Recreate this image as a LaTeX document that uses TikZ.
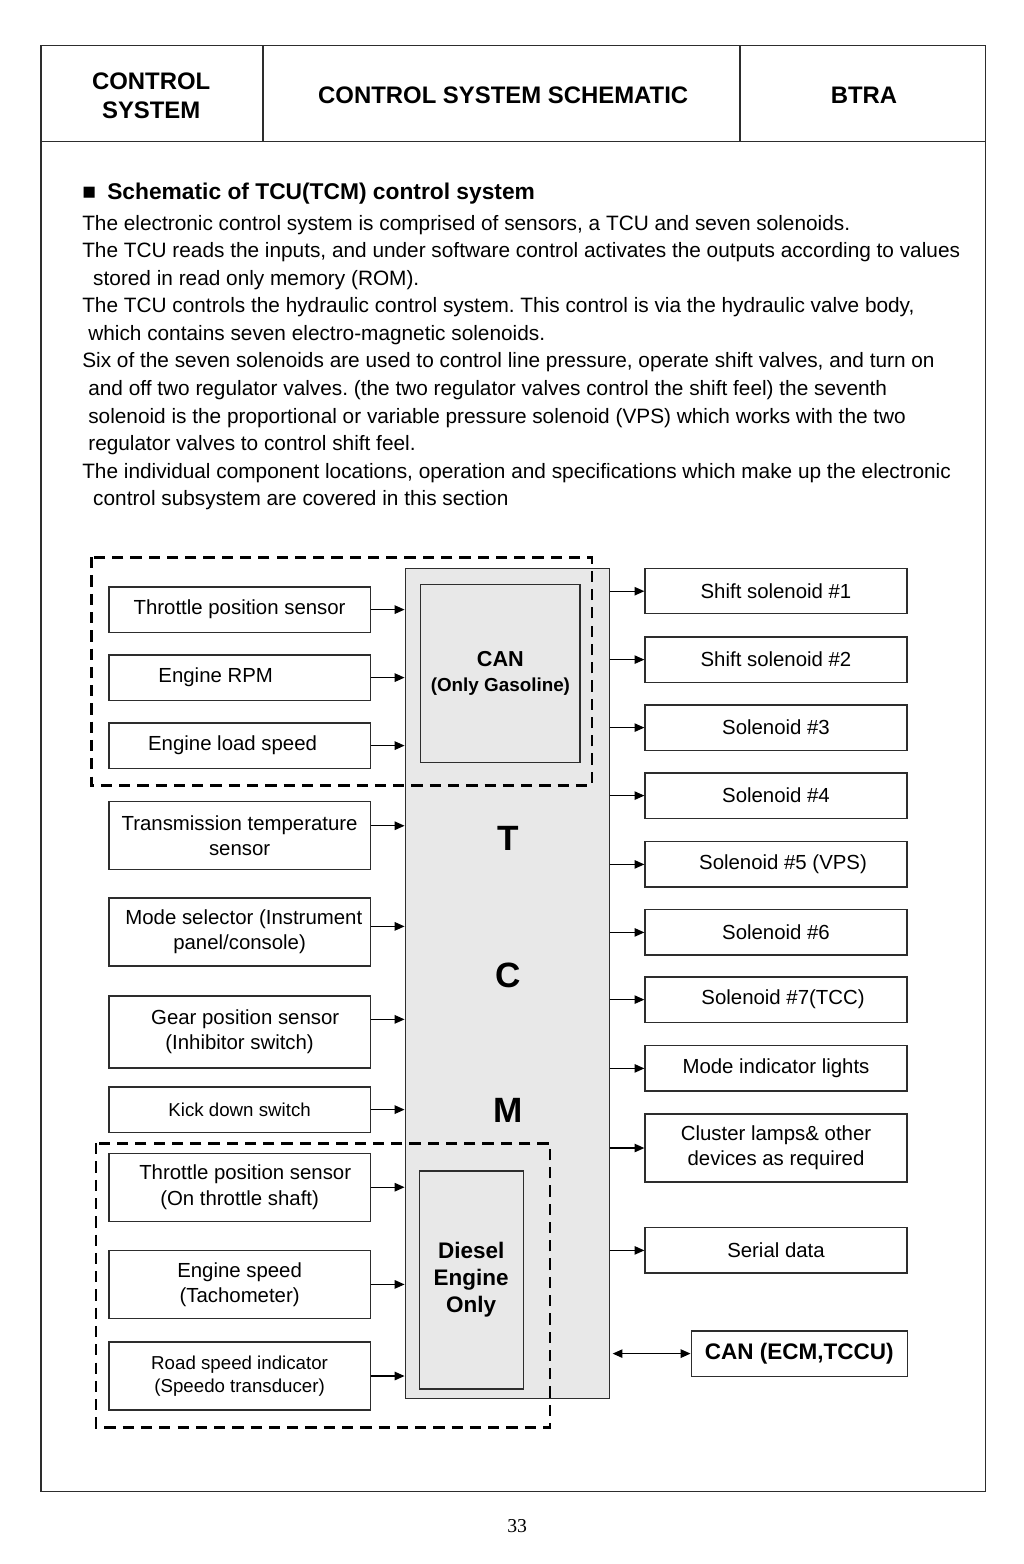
\documentclass[tikz,border=0pt]{standalone}
\usepackage{fontspec}
\setmainfont{Liberation Sans}
\newfontfamily\numfont{Liberation Serif}
\usetikzlibrary{arrows.meta}
\frenchspacing

\definecolor{tcmgray}{RGB}{232,232,232}
\definecolor{boxline}{RGB}{45,45,45}

\tikzset{
  sensor/.style={draw=boxline, line width=0.9pt, minimum width=6.53cm, minimum height=1.13cm,
    inner sep=0pt, align=center, font=\fontsize{14.5}{17.8}\selectfont},
  output/.style={sensor, minimum width=6.55cm},
  tallbox/.style={minimum height=1.70cm},
  smalltext/.style={font=\fontsize{13.3}{16.4}\selectfont},
  groupline/.style={line width=2pt, dash pattern=on 8pt off 5pt},
  sig/.style={line width=0.9pt, -{Triangle[length=7pt,width=6pt]}},
  bisig/.style={line width=0.9pt, {Triangle[length=7pt,width=6pt]}-{Triangle[length=7pt,width=6pt]}},
  hdr/.style={font=\bfseries\fontsize{17}{20.6}\selectfont, align=center},
}

\begin{document}
\begin{tikzpicture}
\useasboundingbox (0.00,0.00) rectangle (25.60,-39.10);
% page frame and header
\draw[line width=1pt, draw=boxline] (1.03,-1.13) rectangle (24.63,-37.28);
\draw[line width=1pt, draw=boxline] (1.03,-3.53) -- (24.63,-3.53);
\draw[line width=1pt, draw=boxline] (6.58,-1.13) -- (6.58,-3.53);
\draw[line width=1pt, draw=boxline] (18.50,-1.13) -- (18.50,-3.53);
\node[hdr] (hdrleft) at (3.78,-2.40) {CONTROL\\SYSTEM};
\node[hdr] (hdrmid) at (12.58,-2.38) {CONTROL SYSTEM SCHEMATIC};
\node[hdr] (hdrright) at (21.60,-2.38) {BTRA};

% text
\node[anchor=base west, inner sep=0pt, font=\bfseries\fontsize{16.2}{19}\selectfont] (heading) at (2.05,-4.99)
  {■\hspace{8pt}Schematic of TCU(TCM) control system};
\node[anchor=north west, inner sep=0pt, align=left, font=\fontsize{14.8}{19.6}\selectfont] (intro) at (2.05,-5.37) {%
The electronic control system is comprised of sensors, a TCU and seven solenoids.\\
The TCU reads the inputs, and under software control activates the outputs according to values\\
\hspace*{7.8pt}stored in read only memory (ROM).\\
The TCU controls the hydraulic control system. This control is via the hydraulic valve body,\\
\hspace*{4.3pt}which contains seven electro-magnetic solenoids.\\
Six of the seven solenoids are used to control line pressure, operate shift valves, and turn on\\
\hspace*{4.3pt}and off two regulator valves. (the two regulator valves control the shift feel) the seventh\\
\hspace*{4.3pt}solenoid is the proportional or variable pressure solenoid (VPS) which works with the two\\
\hspace*{4.3pt}regulator valves to control shift feel.\\
The individual component locations, operation and specifications which make up the electronic\\
\hspace*{7.8pt}control subsystem are covered in this section};

% TCM block
\node[draw=boxline, fill=tcmgray, line width=0.9pt, minimum width=5.10cm, minimum height=20.75cm, inner sep=0pt] (tcm) at (12.68,-24.58) {};
\node[draw=boxline, line width=0.9pt, minimum width=3.98cm, minimum height=4.45cm, inner sep=0pt, align=center, font=\bfseries] (canbox) at (12.51,-16.83)
  {\fontsize{15.4}{18.5}\selectfont CAN\\[6pt]\fontsize{13.4}{18.5}\selectfont(Only Gasoline)};
\node[draw=boxline, line width=0.9pt, minimum width=2.60cm, minimum height=5.45cm, inner sep=0pt, align=center, font=\bfseries\fontsize{16}{19.2}\selectfont] (dieselbox) at (11.78,-32.00)
  {Diesel\\Engine\\Only};
\node[font=\bfseries\fontsize{25}{30}\selectfont] (letT) at (12.70,-20.95) {T};
\node[font=\bfseries\fontsize{25}{30}\selectfont] (letC) at (12.70,-24.38) {C};
\node[font=\bfseries\fontsize{25}{30}\selectfont] (letM) at (12.70,-27.75) {M};

% inputs
\node[sensor] (tps) at (5.99,-15.24) {Throttle position sensor};
\node[sensor] (rpm) at (5.99,-16.94) {Engine RPM\hspace*{34pt}};
\node[sensor] (load) at (5.99,-18.64) {Engine load speed\hspace*{10pt}};
\node[sensor, tallbox] (ttemp) at (5.99,-20.89) {Transmission temperature\\sensor};
\node[sensor, tallbox] (modesel) at (5.99,-23.30) {\hspace*{6pt}Mode selector (Instrument\\panel/console)};
\node[sensor, minimum height=1.80cm] (gear) at (5.99,-25.80) {\hspace*{8pt}Gear position sensor\\(Inhibitor switch)};
\node[sensor, smalltext] (kick) at (5.99,-27.74) {Kick down switch};
\node[sensor, tallbox] (tpsd) at (5.99,-29.68) {\hspace*{8pt}Throttle position sensor\\(On throttle shaft)};
\node[sensor, tallbox] (espeed) at (5.99,-32.11) {Engine speed\\(Tachometer)};
\node[sensor, tallbox, smalltext] (road) at (5.99,-34.40) {Road speed indicator\\(Speedo transducer)};

% outputs
\node[output] (sol1) at (19.40,-14.78) {Shift solenoid \#1};
\node[output] (sol2) at (19.40,-16.49) {Shift solenoid \#2};
\node[output] (sol3) at (19.40,-18.19) {Solenoid \#3};
\node[output] (sol4) at (19.40,-19.89) {Solenoid \#4};
\node[output] (sol5) at (19.40,-21.61) {\hspace*{10pt}Solenoid \#5 (VPS)};
\node[output] (sol6) at (19.40,-23.31) {Solenoid \#6};
\node[output] (sol7) at (19.40,-24.99) {\hspace*{10pt}Solenoid \#7(TCC)};
\node[output] (modeind) at (19.40,-26.71) {Mode indicator lights};
\node[output, tallbox] (cluster) at (19.40,-28.70) {Cluster lamps\& other\\devices as required};
\node[output] (serial) at (19.40,-31.26) {Serial data};
\node[output, minimum width=5.40cm, font=\bfseries\fontsize{16}{19}\selectfont] (canecm) at (19.98,-33.84) {CAN (ECM,TCCU)};

% signal lines
\draw[sig] (tps.east) -- (tps.east -| tcm.west);
\draw[sig] (rpm.east) -- (rpm.east -| tcm.west);
\draw[sig] (load.east) -- (load.east -| tcm.west);
\draw[sig] ([yshift=7pt]ttemp.east) -- ([yshift=7pt]ttemp.east -| tcm.west);
\draw[sig] ([yshift=4pt]modesel.east) -- ([yshift=4pt]modesel.east -| tcm.west);
\draw[sig] ([yshift=9pt]gear.east) -- ([yshift=9pt]gear.east -| tcm.west);
\draw[sig] (kick.east) -- (kick.east -| tcm.west);
\draw[sig] (tpsd.east) -- (tpsd.east -| tcm.west);
\draw[sig] (espeed.east) -- (espeed.east -| tcm.west);
\draw[sig] (road.east) -- (road.east -| tcm.west);
\draw[sig] (sol1.west -| tcm.east) -- (sol1.west);
\draw[sig] (sol2.west -| tcm.east) -- (sol2.west);
\draw[sig] (sol3.west -| tcm.east) -- (sol3.west);
\draw[sig] (sol4.west -| tcm.east) -- (sol4.west);
\draw[sig] (sol5.west -| tcm.east) -- (sol5.west);
\draw[sig] (sol6.west -| tcm.east) -- (sol6.west);
\draw[sig] (sol7.west -| tcm.east) -- (sol7.west);
\draw[sig] (modeind.west -| tcm.east) -- (modeind.west);
\draw[sig] (cluster.west -| tcm.east) -- (cluster.west);
\draw[sig] (serial.west -| tcm.east) -- (serial.west);
\draw[bisig] ([xshift=2pt]canecm.west -| tcm.east) -- (canecm.west);

% gasoline / diesel groups
\draw[groupline] (2.28,-13.93) rectangle (14.80,-19.63);
\draw[groupline] (2.40,-28.58) rectangle (13.75,-35.68);

\node[font=\numfont\fontsize{14}{16}\selectfont] (pagenum) at (12.93,-38.15) {33};
\end{tikzpicture}
\end{document}
